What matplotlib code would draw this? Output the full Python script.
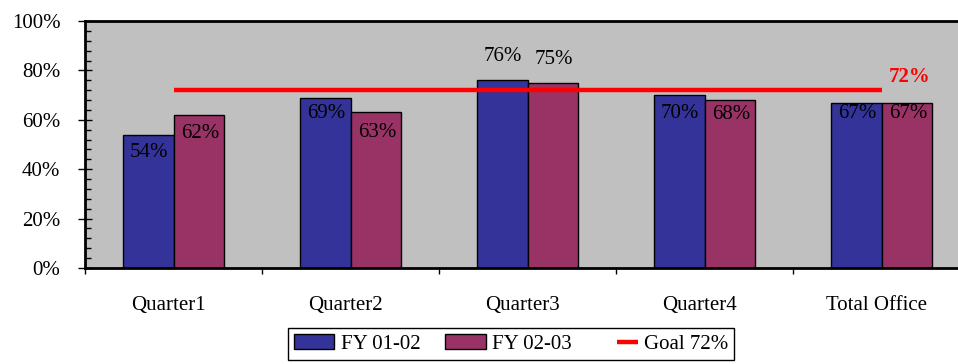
import matplotlib
matplotlib.use("Agg")
import matplotlib.pyplot as plt
import matplotlib.transforms as mtransforms
import numpy as np
from matplotlib.lines import Line2D
from matplotlib.patches import Patch

# Data
categories = ["Quarter1", "Quarter2", "Quarter3", "Quarter4", "Total Office"]
fy_01_02 = [54, 69, 76, 70, 67]
fy_02_03 = [62, 63, 75, 68, 67]
goal = 72
series_names = ["FY 01-02", "FY 02-03"]
goal_name = "Goal 72%"

BLUE = "#333399"
PLUM = "#993366"
GREY = "#C0C0C0"
RED = "#FF0000"

plt.rcParams["font.family"] = ["Liberation Serif", "DejaVu Serif"]
FS = 15

fig = plt.figure(figsize=(9.58, 3.64), dpi=100)
ax = fig.add_axes([85 / 958, 96 / 364, 885 / 958, 247 / 364])
ax.set_facecolor(GREY)

n = len(categories)
x = np.arange(n) + 0.5
w = 0.287

b1 = ax.bar(x - w / 2, fy_01_02, width=w, color=BLUE, edgecolor="black", linewidth=1.0, zorder=2)
b2 = ax.bar(x + w / 2, fy_02_03, width=w, color=PLUM, edgecolor="black", linewidth=1.0, zorder=2)

# value labels (vertical offsets in pixels, negative = below the bar top)
offs1 = [-18, -16, 24, -18, -11]
offs2 = [-19, -20, 23, -14, -11]
for bars, vals, offs in ((b1, fy_01_02, offs1), (b2, fy_02_03, offs2)):
    for rect, v, o in zip(bars, vals, offs):
        ax.annotate(f"{v}%", (rect.get_x() + rect.get_width() / 2, v),
                    xytext=(1, o), textcoords="offset pixels",
                    ha="center", va="center", fontsize=FS, color="black", zorder=4)

# goal line
ax.plot([x[0], x[-1]], [goal, goal], color=RED, linewidth=3.2, zorder=3, solid_capstyle="butt")
ax.annotate(f"{goal}%", (x[-1], goal), xytext=(28, 13), textcoords="offset pixels",
            ha="center", va="center", fontsize=FS, color=RED, fontweight="bold")

ax.set_xlim(0, n)
ax.set_ylim(0, 100)

# y axis ticks
ax.set_yticks(np.arange(0, 101, 20))
ax.set_yticklabels([f"{v}%" for v in range(0, 101, 20)], fontsize=FS)
ax.set_yticks(np.arange(0, 101, 4), minor=True)
ax.tick_params(axis="y", which="major", direction="inout", length=9.5, width=1.0, pad=13)
ax.tick_params(axis="y", which="minor", direction="in", length=4.5, width=1.0)

# x axis: ticks between categories, labels at centres
ax.set_xticks(np.arange(0, n + 1))
ax.set_xticklabels([])
ax.set_xticks(x, minor=True)
ax.set_xticklabels(categories, minor=True, fontsize=FS)
ax.tick_params(axis="x", which="major", direction="out", length=4.5, width=1.0)
ax.tick_params(axis="x", which="minor", length=0, pad=20)
shift = mtransforms.ScaledTranslation(-5 / 100, 0, fig.dpi_scale_trans)
for lbl in ax.get_xticklabels(minor=True):
    lbl.set_transform(lbl.get_transform() + shift)

for side in ("left", "top", "bottom"):
    ax.spines[side].set_linewidth(2.0)
    ax.spines[side].set_color("black")
ax.spines["right"].set_visible(False)


class HalfLineHandler:
    def legend_artist(self, legend, orig_handle, fontsize, handlebox):
        x0, y0 = handlebox.xdescent, handlebox.ydescent
        wd, ht = handlebox.width, handlebox.height
        ln = Line2D([x0 + wd * 0.5, x0 + wd], [y0 + ht / 2, y0 + ht / 2],
                    color=RED, linewidth=3.2, solid_capstyle="butt",
                    transform=handlebox.get_transform())
        handlebox.add_artist(ln)
        return ln


handles = [Patch(facecolor=BLUE, edgecolor="black", linewidth=1.0),
           Patch(facecolor=PLUM, edgecolor="black", linewidth=1.0),
           Line2D([], [], color=RED, linewidth=3.2)]
labels = series_names + [goal_name]
leg = fig.legend(handles, labels, loc="center", bbox_to_anchor=(511 / 958, 20 / 364),
                 ncol=3, fontsize=FS, frameon=True, fancybox=False, shadow=False,
                 edgecolor="black", framealpha=1, handlelength=1.95, handleheight=0.7,
                 handletextpad=0.3, columnspacing=1.2, borderpad=0.3,
                 handler_map={Line2D: HalfLineHandler()})
leg.get_frame().set_linewidth(1.0)

fig.savefig("out.png", dpi=100)
